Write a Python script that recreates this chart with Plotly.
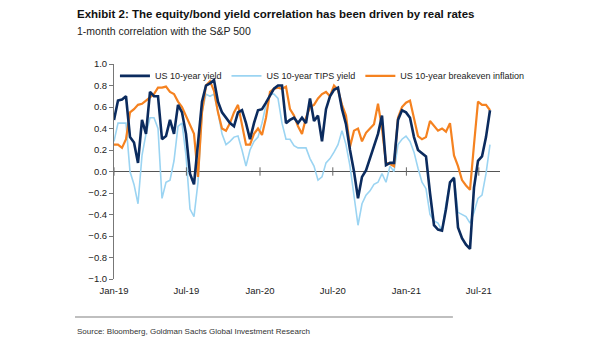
import plotly.graph_objects as go

dates = [
    "2019-01-01", "2019-01-11", "2019-01-21", "2019-01-31", "2019-02-10", "2019-02-20", "2019-03-02", "2019-03-12", "2019-03-22", "2019-04-01",
    "2019-04-11", "2019-04-21", "2019-05-01", "2019-05-11", "2019-05-21", "2019-05-31", "2019-06-10", "2019-06-20", "2019-06-30", "2019-07-10",
    "2019-07-20", "2019-07-30", "2019-08-09", "2019-08-19", "2019-08-29", "2019-09-08", "2019-09-18", "2019-09-28", "2019-10-08", "2019-10-18",
    "2019-10-28", "2019-11-07", "2019-11-17", "2019-11-27", "2019-12-07", "2019-12-17", "2019-12-27", "2020-01-06", "2020-01-16", "2020-01-26",
    "2020-02-05", "2020-02-15", "2020-02-25", "2020-03-06", "2020-03-16", "2020-03-26", "2020-04-05", "2020-04-15", "2020-04-25", "2020-05-05",
    "2020-05-15", "2020-05-25", "2020-06-04", "2020-06-14", "2020-06-24", "2020-07-04", "2020-07-14", "2020-07-24", "2020-08-03", "2020-08-13",
    "2020-08-23", "2020-09-02", "2020-09-12", "2020-09-22", "2020-10-02", "2020-10-12", "2020-10-22", "2020-11-01", "2020-11-11", "2020-11-21",
    "2020-12-01", "2020-12-11", "2020-12-21", "2020-12-31", "2021-01-10", "2021-01-20", "2021-01-30", "2021-02-09", "2021-02-19", "2021-03-01",
    "2021-03-11", "2021-03-21", "2021-03-31", "2021-04-10", "2021-04-20", "2021-04-30", "2021-05-10", "2021-05-20", "2021-05-30", "2021-06-09",
    "2021-06-19", "2021-06-29", "2021-07-09", "2021-07-19", "2021-07-29",
]

us10y = [
    0.48, 0.66, 0.67, 0.70, 0.32, 0.27, 0.08, 0.48, 0.35, 0.74,
    0.70, 0.70, 0.30, 0.33, 0.48, 0.35, 0.62, 0.55, 0.35, -0.02,
    -0.12, 0.25, 0.65, 0.80, 0.82, 0.85, 0.65, 0.55, 0.50, 0.45,
    0.42, 0.55, 0.57, 0.45, 0.30, 0.45, 0.57, 0.58, 0.64, 0.70,
    0.77, 0.80, 0.80, 0.45, 0.48, 0.50, 0.45, 0.50, 0.45, 0.68,
    0.47, 0.52, 0.28, 0.58, 0.70, 0.76, 0.78, 0.58, 0.44, 0.20,
    0.00, -0.25, -0.05, 0.01, 0.12, 0.22, 0.35, 0.52, 0.06, 0.08,
    0.08, 0.48, 0.57, 0.55, 0.50, 0.32, 0.20, 0.17, 0.14, -0.20,
    -0.50, -0.54, -0.55, -0.35, -0.10, -0.06, -0.52, -0.62, -0.68, -0.72,
    -0.15, 0.10, 0.14, 0.32, 0.57,
]

tips10y = [
    0.28, 0.45, 0.45, 0.45, 0.00, -0.12, -0.30, 0.15, 0.35, 0.50,
    0.50, 0.40, -0.25, -0.10, -0.08, 0.10, 0.42, 0.45, 0.15, -0.35,
    -0.42, -0.10, 0.55, 0.72, 0.70, 0.72, 0.55, 0.35, 0.25, 0.28,
    0.32, 0.33, 0.20, 0.05, 0.20, 0.28, 0.32, 0.45, 0.62, 0.72,
    0.72, 0.68, 0.45, 0.30, 0.30, 0.24, 0.22, 0.22, 0.22, 0.12,
    0.05, -0.08, -0.05, 0.08, 0.12, 0.18, 0.25, 0.38, 0.25, 0.05,
    -0.25, -0.50, -0.30, -0.22, -0.18, -0.12, -0.10, -0.02, -0.10, 0.05,
    0.00, 0.25, 0.30, 0.33, 0.28, 0.18, 0.03, -0.10, -0.16, -0.40,
    -0.46, -0.48, -0.55, -0.30, -0.10, -0.05, -0.38, -0.40, -0.42, -0.48,
    -0.38, -0.25, -0.22, -0.02, 0.25,
]

breakeven10y = [
    0.25, 0.25, 0.22, 0.30, 0.55, 0.58, 0.62, 0.63, 0.66, 0.69,
    0.72, 0.78, 0.78, 0.79, 0.74, 0.72, 0.65, 0.60, 0.52, 0.43,
    0.35, -0.05, 0.55, 0.80, 0.84, 0.75, 0.55, 0.40, 0.38, 0.45,
    0.55, 0.62, 0.45, 0.25, 0.25, 0.35, 0.40, 0.34, 0.50, 0.74,
    0.77, 0.78, 0.77, 0.79, 0.58, 0.52, 0.42, 0.35, 0.50, 0.60,
    0.62, 0.68, 0.72, 0.74, 0.70, 0.80, 0.76, 0.62, 0.52, 0.23,
    0.38, 0.40, 0.28, 0.36, 0.40, 0.44, 0.63, 0.40, 0.08, 0.07,
    0.05, 0.50, 0.60, 0.64, 0.66, 0.48, 0.33, 0.30, 0.32, 0.47,
    0.42, 0.38, 0.40, 0.37, 0.45, 0.15, 0.05, -0.08, -0.13, -0.17,
    0.25, 0.65, 0.62, 0.62, 0.57,
]

tick_dates = ["2019-01-01", "2019-07-01", "2020-01-01", "2020-07-01", "2021-01-01", "2021-07-01"]
tick_labels = ["Jan-19", "Jul-19", "Jan-20", "Jul-20", "Jan-21", "Jul-21"]
y_ticks = [1.0, 0.8, 0.6, 0.4, 0.2, 0.0, -0.2, -0.4, -0.6, -0.8, -1.0]

NAVY = "#0b2b5e"
LIGHT = "#9bd4f2"
ORANGE = "#f58220"
SANS = "Liberation Sans, Arial, sans-serif"

fig = go.Figure()
fig.add_trace(go.Scatter(x=dates, y=tips10y, mode="lines", name="US 10-year TIPS yield",
                         line=dict(color=LIGHT, width=1.6), legendrank=2))
fig.add_trace(go.Scatter(x=dates, y=breakeven10y, mode="lines", name="US 10-year breakeven inflation",
                         line=dict(color=ORANGE, width=2.2), legendrank=3))
fig.add_trace(go.Scatter(x=dates, y=us10y, mode="lines", name="US 10-year yield",
                         line=dict(color=NAVY, width=2.6), legendrank=1))
# small tick marks sitting on the zero line
fig.add_trace(go.Scatter(x=tick_dates, y=[0] * len(tick_dates), mode="markers", showlegend=False,
                         hoverinfo="skip",
                         marker=dict(symbol="line-ns", size=6, line=dict(color="#666", width=1))))

fig.update_layout(
    width=605, height=341,
    margin=dict(l=114, r=105, t=64, b=62, autoexpand=False),
    paper_bgcolor="white", plot_bgcolor="white",
    font=dict(family=SANS, size=9.5, color="#222"),
    showlegend=True,
    legend=dict(orientation="h", x=1.075, y=1.012, xanchor="right", yanchor="top",
                bgcolor="rgba(0,0,0,0)", font=dict(size=9, color="#222"),
                itemwidth=30, tracegroupgap=0),
    xaxis=dict(range=["2019-01-01", "2021-08-23"], tickvals=tick_dates, ticktext=tick_labels,
               showgrid=False, zeroline=False, showline=False,
               ticks="outside", ticklen=3, tickcolor="rgba(0,0,0,0)",
               tickfont=dict(size=9.5, color="#222")),
    yaxis=dict(range=[-1.0, 1.0], tickvals=y_ticks, tickformat=".1f",
               showgrid=False, zeroline=True, zerolinecolor="#555", zerolinewidth=1,
               showline=True, linecolor="#777", linewidth=1, ticks="outside", ticklen=4,
               tickcolor="#777", tickfont=dict(size=9.5, color="#222")),
    annotations=[
        dict(text="<b>Exhibit 2: The equity/bond yield correlation has been driven by real rates</b>",
             xref="paper", yref="paper", x=-0.101, y=1.233, xanchor="left", yanchor="middle",
             showarrow=False, font=dict(family=SANS, size=11.5, color="#111")),
        dict(text="1-month correlation with the S&P 500",
             xref="paper", yref="paper", x=-0.101, y=1.153, xanchor="left", yanchor="middle",
             showarrow=False, font=dict(family=SANS, size=10.5, color="#222")),
        dict(text="Source: Bloomberg, Goldman Sachs Global Investment Research",
             xref="paper", yref="paper", x=-0.101, y=-0.242, xanchor="left", yanchor="middle",
             showarrow=False, font=dict(family=SANS, size=8, color="#333")),
    ],
    shapes=[
        dict(type="line", xref="paper", yref="paper", x0=-0.101, x1=0.878, y0=-0.177, y1=-0.177,
             line=dict(color="#aaaaaa", width=1.5)),
    ],
)

fig.write_html("out.html")
